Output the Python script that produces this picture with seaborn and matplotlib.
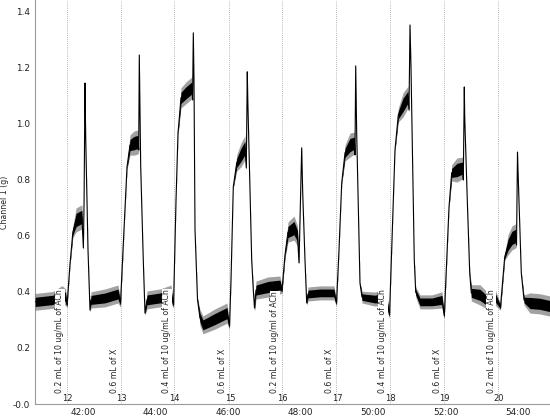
import numpy as np
import pandas as pd
import seaborn as sns
import matplotlib.pyplot as plt

# force trace: time (min), force (g), half height of the noise band (g)
trace_time = [
    40.68, 41.17, 41.42, 41.52, 41.56, 41.64, 41.72, 41.81, 41.97, 42.01, 42.03, 42.055, 42.074, 42.138, 42.193,
    42.221, 42.607, 42.966, 43.034, 43.131, 43.214, 43.297, 43.407, 43.517, 43.537, 43.553, 43.592, 43.663, 43.710,
    43.766, 44.124, 44.428, 44.497, 44.566, 44.621, 44.703, 44.841, 45.007, 45.023, 45.043, 45.062, 45.090, 45.159,
    45.228, 45.310, 45.641, 45.972, 46.041, 46.083, 46.146, 46.240, 46.359, 46.469, 46.505, 46.532, 46.546, 46.654,
    46.698, 46.731, 46.772, 47.103, 47.434, 47.490, 47.572, 47.655, 47.821, 47.917, 47.959, 48.000, 48.033, 48.061,
    48.124, 48.171, 48.207, 48.538, 48.924, 48.993, 49.062, 49.137, 49.228, 49.366, 49.490, 49.503, 49.523, 49.550,
    49.641, 49.697, 50.055, 50.359, 50.455, 50.524, 50.607, 50.698, 50.828, 50.966, 50.993, 51.021, 51.048, 51.139,
    51.178, 51.297, 51.628, 51.903, 51.967, 52.097, 52.171, 52.317, 52.469, 52.491, 52.519, 52.530, 52.601, 52.668,
    52.712, 52.952, 53.228, 53.366, 53.517, 53.633, 53.724, 53.834, 53.931, 53.959, 53.986, 54.000, 54.091, 54.166,
    54.331, 54.607, 54.883,
]
trace_force = [
    0.364, 0.371, 0.392, 0.381, 0.353, 0.496, 0.613, 0.656, 0.667, 0.556, 0.727, 1.144, 0.952, 0.549, 0.335,
    0.371, 0.378, 0.392, 0.360, 0.620, 0.845, 0.923, 0.930, 0.934, 0.906, 1.244, 0.845, 0.513, 0.324,
    0.371, 0.378, 0.392, 0.353, 0.727, 0.966, 1.091, 1.109, 1.127, 1.084, 1.323, 1.155, 0.620, 0.371,
    0.307, 0.282, 0.303, 0.324, 0.278, 0.442, 0.774, 0.859, 0.888, 0.913, 0.841, 1.184, 1.084, 0.513,
    0.406, 0.342, 0.406, 0.417, 0.424, 0.406, 0.531, 0.613, 0.627, 0.599, 0.503, 0.727, 0.913, 0.752,
    0.513, 0.360, 0.392, 0.396, 0.396, 0.360, 0.549, 0.788, 0.895, 0.923, 0.930, 0.888, 1.205, 0.966,
    0.431, 0.381, 0.374, 0.381, 0.317, 0.585, 0.906, 1.030, 1.066, 1.094, 1.048, 1.351, 1.201, 0.513,
    0.399, 0.364, 0.364, 0.371, 0.314, 0.702, 0.824, 0.834, 0.841, 0.799, 1.130, 1.023, 0.727, 0.467,
    0.396, 0.389, 0.360, 0.381, 0.346, 0.524, 0.567, 0.592, 0.599, 0.567, 0.898, 0.834, 0.467, 0.371,
    0.360, 0.357, 0.349,
]
trace_noise = [
    0.030, 0.030, 0.030, 0.030, 0.010, 0.005, 0.020, 0.043, 0.043, 0.005, 0.005, 0.003, 0.005, 0.004, 0.008,
    0.029, 0.032, 0.032, 0.015, 0.005, 0.010, 0.036, 0.043, 0.043, 0.005, 0.003, 0.003, 0.003, 0.008,
    0.032, 0.032, 0.032, 0.012, 0.005, 0.008, 0.036, 0.039, 0.039, 0.005, 0.003, 0.003, 0.003, 0.008,
    0.029, 0.032, 0.036, 0.036, 0.012, 0.005, 0.005, 0.029, 0.043, 0.043, 0.005, 0.003, 0.003, 0.003,
    0.008, 0.012, 0.032, 0.036, 0.032, 0.012, 0.012, 0.036, 0.043, 0.036, 0.005, 0.005, 0.003, 0.003,
    0.003, 0.008, 0.025, 0.025, 0.025, 0.012, 0.005, 0.005, 0.029, 0.043, 0.039, 0.005, 0.003, 0.003,
    0.005, 0.021, 0.025, 0.029, 0.012, 0.005, 0.005, 0.025, 0.043, 0.039, 0.005, 0.003, 0.003, 0.003,
    0.018, 0.025, 0.025, 0.029, 0.012, 0.005, 0.029, 0.043, 0.039, 0.005, 0.003, 0.003, 0.003, 0.008,
    0.029, 0.036, 0.029, 0.029, 0.012, 0.012, 0.036, 0.043, 0.043, 0.005, 0.003, 0.003, 0.003, 0.018,
    0.036, 0.036, 0.036,
]

# comments / event markers
event_time = [41.55, 43.05, 44.51, 46.04, 47.49, 48.99, 50.46, 51.96, 53.45]
event_num = ["12", "13", "14", "15", "16", "17", "18", "19", "20"]
event_text = [
    "0.2 mL of 10 ug/mL of ACh",
    "0.6 mL of X",
    "0.4 mL of 10 ug/mL of ACh",
    "0.6 mL of X",
    "0.2 mL of 10 ug/ml of ACh",
    "0.6 mL of X",
    "0.4 mL of 10 ug/mL of ACh",
    "0.6 mL of X",
    "0.2 mL of 10 ug/mL of ACh",
]

xtick_vals = [42, 44, 46, 48, 50, 52, 54]
xtick_labels = ["42:00", "44:00", "46:00", "48:00", "50:00", "52:00", "54:00"]
ytick_vals = [0.0, 0.2, 0.4, 0.6, 0.8, 1.0, 1.2, 1.4]
ytick_labels = ["-0.0", "0.2", "0.4", "0.6", "0.8", "1.0", "1.2", "1.4"]

sns.set_style("white")
plt.rcParams["font.family"] = ["DejaVu Sans"]

df = pd.DataFrame({"time": trace_time, "force": trace_force, "noise": trace_noise})
# dense core of the noise band and its fainter outer fringe
df["core_lo"] = df["force"] - 0.55 * df["noise"]
df["core_hi"] = df["force"] + 0.55 * df["noise"]
df["low"] = df["force"] - df["noise"]
df["high"] = df["force"] + df["noise"]

fig = plt.figure(figsize=(5.5, 4.19), dpi=100)
ax = fig.add_axes([35 / 550, 15 / 419, 515 / 550, 404 / 419])

for t, num, txt in zip(event_time, event_num, event_text):
    ax.axvline(t, color="#a0a0a0", lw=0.6, ls=(0, (1, 1.5)), zorder=1)
    ax.text(t - 0.07, 0.038, txt, rotation=90, ha="right", va="bottom", fontsize=5.6,
            color="#222222", zorder=6,
            bbox=dict(boxstyle="square,pad=0.05", fc="white", ec="none"))
    ax.text(t + 0.02, 0.002, num, ha="center", va="bottom", fontsize=6, color="#222222", zorder=6)

ax.fill_between(df["time"], df["low"], df["high"], color="#555555", alpha=0.55, lw=0, zorder=3)
ax.fill_between(df["time"], df["core_lo"], df["core_hi"], color="black", lw=0, zorder=4)
sns.lineplot(data=df, x="time", y="force", ax=ax, color="black", lw=0.8,
             estimator=None, sort=False, zorder=5)

ax.set_xlim(40.676, 54.883)
ax.set_ylim(0, 1.44)
ax.set_xticks(xtick_vals, xtick_labels)
ax.set_yticks(ytick_vals, ytick_labels)
ax.set_xlabel("")
ax.set_ylabel("Channel 1 (g)", fontsize=5.6, labelpad=3, color="#222222")
ax.tick_params(axis="both", labelsize=6.4, colors="#222222", length=2, width=0.6, pad=1.5)
ax.tick_params(axis="x", pad=0.8)

for side in ["top", "right"]:
    ax.spines[side].set_visible(False)
for side in ["left", "bottom"]:
    ax.spines[side].set_color("#9a9a9a")
    ax.spines[side].set_linewidth(0.8)

fig.savefig("out.png", dpi=100)
